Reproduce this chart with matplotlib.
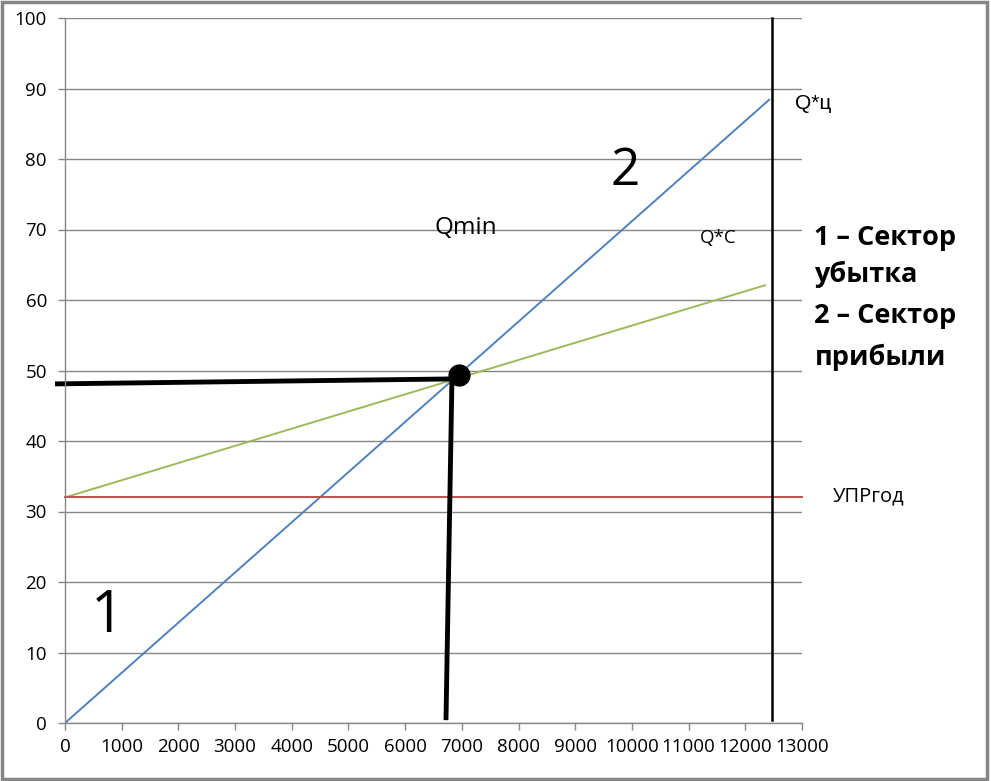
import numpy as np
import matplotlib.pyplot as plt
from matplotlib.patches import Rectangle

# ====================================================
# DATA
# ====================================================

q_revenue = [0, 12420]
revenue = [0, 88.4]

q_cost = [0, 12350]
cost = [32, 62.1]

q_fixed = [0, 13000]
fixed = [32, 32]

q_limit = 12470

q_h = [-176, 6790]
h_level = [48.1, 48.8]
q_v = [6720, 6825]
v_level = [0.4, 48.65]
point_q, point_v = 6950, 49.4

xticks = np.arange(0, 13001, 1000)
yticks = np.arange(0, 101, 10)

GRID = "#868686"
BLUE = "#4F81BD"
GREEN = "#9BBB59"
RED = "#C0504D"

# ====================================================
# FIGURE
# ====================================================

fig = plt.figure(figsize=(9.91, 7.81), dpi=100)
ax = fig.add_axes([65 / 991, 1 - 723 / 781, (802 - 65) / 991, (723 - 18) / 781])

fig.patches.append(Rectangle((0.002, 0.002), 0.994, 0.995, transform=fig.transFigure,
                             fill=False, edgecolor=GRID, linewidth=2.5))

ax.set_xlim(0, 13000)
ax.set_ylim(0, 100)
ax.set_xticks(xticks)
ax.set_yticks(yticks)
ax.set_xticklabels([str(v) for v in xticks], fontfamily="Open Sans", fontsize=13.5)
ax.set_yticklabels([str(v) for v in yticks], fontfamily="Open Sans", fontsize=13.5)
ax.tick_params(axis="both", direction="out", length=5, width=1, color=GRID)
ax.tick_params(axis="x", pad=6)
ax.tick_params(axis="y", pad=8)

for s in ["top", "right"]:
    ax.spines[s].set_visible(False)
for s in ["left", "bottom"]:
    ax.spines[s].set_color(GRID)
    ax.spines[s].set_linewidth(1)

ax.yaxis.grid(True, color=GRID, linewidth=1)
ax.set_axisbelow(True)

ax.plot(q_revenue, revenue, color=BLUE, linewidth=1.4)
ax.plot(q_cost, cost, color=GREEN, linewidth=1.4)
ax.plot(q_fixed, fixed, color=RED, linewidth=1.4, clip_on=False)
ax.plot([q_limit, q_limit], [0.4, 100], color="black", linewidth=1.8, clip_on=False)

ax.plot(q_h, h_level, color="black", linewidth=3.5, clip_on=False, solid_capstyle="butt")
ax.plot(q_v, v_level, color="black", linewidth=3.5, solid_capstyle="butt")
ax.plot([point_q], [point_v], "o", color="black", markersize=15, zorder=5)

# ====================================================
# LABELS
# ====================================================

ax.text(9878, 78.2, "2", fontfamily="Open Sans", fontsize=37, ha="center", va="center")
ax.text(741, 15.0, "1", fontfamily="Open Sans", fontsize=42, ha="center", va="center")
ax.text(7074, 70.2, "Qmin", fontfamily="Open Sans", fontsize=17.5, ha="center", va="center")
ax.text(11519, 68.8, "Q*C", fontfamily="Open Sans", fontsize=13.5, ha="center", va="center")
ax.text(12877, 87.9, "Q*ц", fontfamily="Liberation Sans", fontsize=15, ha="left",
        va="center", clip_on=False)
ax.text(13547, 32.2, "УПРгод", fontfamily="Open Sans", fontsize=14.5, ha="left",
        va="center", clip_on=False)

side_lines = ["1 – Сектор", "убытка", "2 – Сектор", "прибыли"]
side_y = [67.8, 62.55, 56.74, 50.78]
for txt, yy in zip(side_lines, side_y):
    ax.text(13220, yy, txt, fontfamily="Open Sans", fontweight="bold", fontsize=19.5,
            ha="left", va="baseline", clip_on=False)

plt.savefig("out.png", dpi=100)
